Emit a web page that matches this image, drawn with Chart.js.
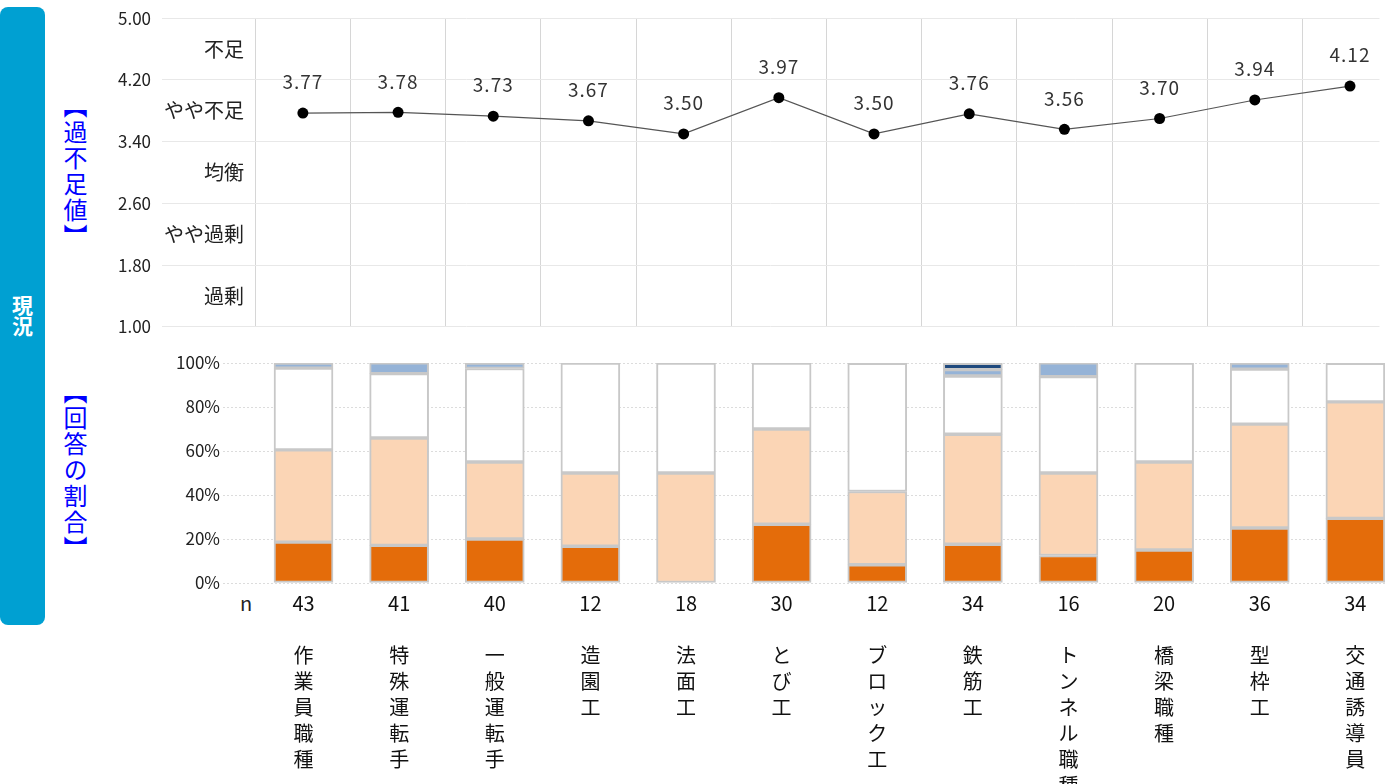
<!DOCTYPE html>
<html lang="ja">
<head>
<meta charset="utf-8">
<title>過不足値</title>
<script src="https://cdn.jsdelivr.net/npm/chart.js@4.4.1/dist/chart.umd.min.js"></script>
<style>
  html, body { margin: 0; padding: 0; background: #fff; overflow: hidden; }
  body { width: 1385px; height: 784px; position: relative; font-family: "Noto Sans CJK JP", sans-serif; }
  #sideBox {
    position: absolute; left: 0; top: 7px; width: 45px; height: 618px;
    background: #00a0d2; border-radius: 8px;
    display: flex; align-items: center; justify-content: center;
  }
  #sideBox span { writing-mode: vertical-rl; color: #fff; font-weight: bold; font-size: 21px; line-height: 24px; }
  .sideLabel {
    position: absolute; writing-mode: vertical-rl; color: #0000ff;
    font-size: 24px; line-height: 24px; letter-spacing: 2px; transform: translate(-50%, -50%);
  }
  #nLabel { position: absolute; left: 240px; top: 590px; font-size: 20px; line-height: 26px; color: #222; }
  #ratioChart { position: absolute; left: 0; top: 340px; }
  #scoreChart { position: absolute; left: 0; top: -3px; }
</style>
</head>
<body>
<div id="sideBox"><span>現況</span></div>
<div class="sideLabel" style="left:75px; top:172px;">【過不足値】</div>
<div class="sideLabel" style="left:75px; top:471px;">【回答の割合】</div>
<div id="nLabel">n</div>
<canvas id="ratioChart" width="1385" height="444"></canvas>
<canvas id="scoreChart" width="1385" height="351"></canvas>
<script>
const categories = ['作業員職種', '特殊運転手', '一般運転手', '造園工', '法面工', 'とび工', 'ブロック工', '鉄筋工', 'トンネル職種', '橋梁職種', '型枠工', '交通誘導員'];
const nValues = [43, 41, 40, 12, 18, 30, 12, 34, 16, 20, 36, 34];
const scoreValues = [3.77, 3.78, 3.73, 3.67, 3.50, 3.97, 3.50, 3.76, 3.56, 3.70, 3.94, 4.12];
const scoreTicks = [1.00, 1.80, 2.60, 3.40, 4.20, 5.00];
const levelTicks = [1.4, 2.2, 3.0, 3.8, 4.6];
const levelLabels = ['過剰', 'やや過剰', '均衡', 'やや不足', '不足'];

// 回答の割合 (%), bottom to top
const shortage       = [18.6, 17.1, 20.0, 16.7, 0, 26.7, 8.3, 17.6, 12.5, 15.0, 25.0, 29.4];
const slightShortage = [41.9, 48.8, 35.0, 33.3, 50.0, 43.3, 33.3, 50.0, 37.5, 40.0, 47.2, 52.9];
const balanced       = [37.2, 29.3, 42.5, 50.0, 50.0, 30.0, 58.3, 26.5, 43.8, 45.0, 25.0, 17.6];
const slightSurplus  = [2.3, 4.9, 2.5, 0, 0, 0, 0, 2.9, 6.3, 0, 2.8, 0];
const surplus        = [0, 0, 0, 0, 0, 0, 0, 2.9, 0, 0, 0, 0];
const percentTicks = [0, 20, 40, 60, 80, 100];

const segmentNames = ['不足', 'やや不足', '均衡', 'やや過剰', '過剰'];
const segmentData = [shortage, slightShortage, balanced, slightSurplus, surplus];
const segmentColors = ['#e46c0a', '#fbd5b5', '#ffffff', '#95b3d7', '#1f497d'];

const fontName = '"Noto Sans CJK JP", "Noto Sans", sans-serif';
Chart.defaults.font.family = fontName;

scoreChart = null;
ratioChart = null;

// values above the points
const valueLabels = {
    id: 'valueLabels',
    afterDatasetsDraw(chart) {
        const ctx = chart.ctx;
        const meta = chart.getDatasetMeta(0);
        ctx.save();
        ctx.font = '19px ' + fontName;
        ctx.fillStyle = '#333';
        ctx.textAlign = 'center';
        ctx.textBaseline = 'middle';
        ctx.letterSpacing = '1px';
        meta.data.forEach((pt, i) => {
            ctx.fillText(scoreValues[i].toFixed(2), pt.x, pt.y - 31);
        });
        ctx.restore();
    }
};

function drawScoreChart() {
    scoreChart = new Chart(document.getElementById('scoreChart'), {
        type: 'line',
        data: {
            datasets: [{
                data: scoreValues.map((v, i) => ({ x: i, y: v })),
                borderColor: '#555',
                borderWidth: 1.2,
                pointRadius: 5.5,
                pointBackgroundColor: '#000',
                pointBorderColor: '#000',
                pointBorderWidth: 0,
                tension: 0
            }]
        },
        options: {
            responsive: false,
            animation: false,
            layout: { padding: 0 },
            plugins: { legend: { display: false }, tooltip: { enabled: false } },
            scales: {
                x: {
                    type: 'linear',
                    offset: false,
                    min: -1.48,
                    max: 11.31,
                    afterBuildTicks: s => { s.ticks = categories.concat(['']).map((c, i) => ({ value: i - 0.5 })); },
                    ticks: { display: false },
                    grid: { color: '#d6d6d6', drawTicks: false },
                    border: { display: false },
                    afterFit: s => { s.height = 0; }
                },
                y: {
                    position: 'left',
                    weight: 1,
                    min: 1,
                    max: 5,
                    afterBuildTicks: s => { s.ticks = scoreTicks.map(v => ({ value: v })); },
                    ticks: { callback: v => v.toFixed(2), color: '#222', font: { size: 17 }, padding: 11 },
                    grid: { color: '#e8e8e8', drawTicks: false },
                    border: { display: false },
                    afterFit: s => { s.width = 162; }
                },
                yLevel: {
                    position: 'left',
                    weight: 0,
                    min: 1,
                    max: 5,
                    afterBuildTicks: s => { s.ticks = levelTicks.map(v => ({ value: v })); },
                    ticks: {
                        callback: (v, i) => levelLabels[i],
                        color: '#222',
                        font: { size: 20 },
                        mirror: true,
                        crossAlign: 'far',
                        padding: 2
                    },
                    grid: { display: false, drawTicks: false },
                    border: { display: false },
                    afterFit: s => { s.width = 0; }
                }
            }
        },
        plugins: [valueLabels]
    });
}

function drawRatioChart() {
    const datasets = segmentData.map((arr, k) => ({
        label: segmentNames[k],
        data: arr.map((v, i) => ({ x: i, y: v })),
        backgroundColor: segmentColors[k],
        borderColor: '#c8c8c8',
        borderWidth: 2,
        borderSkipped: false,
        barThickness: 59
    }));

    ratioChart = new Chart(document.getElementById('ratioChart'), {
        type: 'bar',
        data: { datasets: datasets },
        options: {
            responsive: false,
            animation: false,
            layout: { padding: { top: 23, bottom: 0, left: 0, right: 0 } },
            plugins: { legend: { display: false }, tooltip: { enabled: false } },
            scales: {
                x: {
                    type: 'linear',
                    stacked: true,
                    offset: false,
                    min: -0.842,
                    max: 11.31,
                    afterBuildTicks: s => { s.ticks = categories.map((c, i) => ({ value: i })); },
                    ticks: {
                        autoSkip: false,
                        maxRotation: 0,
                        minRotation: 0,
                        padding: 7,
                        color: '#111',
                        font: { size: 20, lineHeight: '26px' },
                        callback: (v, i) => [String(nValues[i]), ''].concat(categories[i].split(''))
                    },
                    grid: { display: false, drawTicks: false },
                    border: { display: false },
                    afterFit: s => { s.height = 201; }
                },
                y: {
                    stacked: true,
                    min: 0,
                    max: 100,
                    afterBuildTicks: s => { s.ticks = percentTicks.map(v => ({ value: v })); },
                    ticks: { callback: v => v + '%', color: '#222', font: { size: 17 }, padding: 3 },
                    grid: { color: '#dcdcdc', drawTicks: false },
                    border: { display: false, dash: [2, 2] },
                    afterFit: s => { s.width = 223; }
                }
            }
        }
    });
}

drawScoreChart();
drawRatioChart();
</script>
</body>
</html>
